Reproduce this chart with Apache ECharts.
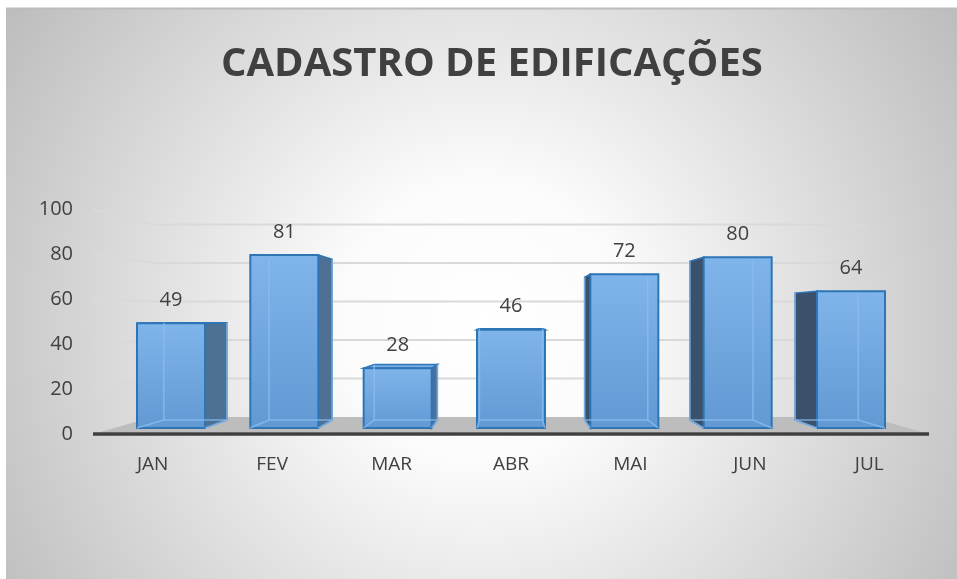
<!DOCTYPE html>
<html>
<head>
<meta charset="utf-8">
<script src="https://cdn.jsdelivr.net/npm/echarts@6/dist/echarts.min.js"></script>
<style>html,body{margin:0;padding:0;background:#fff}#c{width:957px;height:579px}</style>
</head>
<body>
<div id="c"></div>
<script>
const categories = ['JAN', 'FEV', 'MAR', 'ABR', 'MAI', 'JUN', 'JUL'];
const values = [49, 81, 28, 46, 72, 80, 64];
const yTicks = [0, 20, 40, 60, 80, 100];
const titleText = 'CADASTRO DE EDIFICAÇÕES';

// one-point perspective
const VX = 511, VY = 316;
const S_WALL = 0.856;   // back wall depth
const S_FRONT = 0.949;  // bar front face depth
const S_BACK = 0.881;   // bar back face depth
function proj(p, s) { return [VX + (p[0] - VX) * s, VY + (p[1] - VY) * s]; }

const FONT = '"Open Sans", sans-serif';
const chart = echarts.init(document.getElementById('c'));

function renderGrid(params, api) {
  const cs = params.coordSys;
  const v = api.value(0);
  const y = api.coord([0, v])[1];
  const xl = cs.x, xr = cs.x + cs.width;
  if (v === 0) {
    const a = proj([xl, y], S_WALL), b = proj([xr, y], S_WALL);
    const c = proj([xr, y], 0.985), d = proj([xl, y], 0.985);
    const e = proj([xl, y], 1), f = proj([xr, y], 1);
    return {
      type: 'group',
      children: [
        { type: 'polygon', shape: { points: [a, b, c, d] }, style: { fill: '#bdbdbd' } },
        { type: 'line', shape: { x1: e[0], y1: e[1], x2: f[0], y2: f[1] }, style: { stroke: '#3f3f3f', lineWidth: 3.5 } }
      ]
    };
  }
  const p1 = proj([xl, y], 1), p2 = proj([xl, y], S_WALL), p3 = proj([xr, y], S_WALL);
  return {
    type: 'polyline',
    shape: { points: [p1, p2, p3] },
    style: { stroke: '#d9d9d9', lineWidth: 2, fill: null }
  };
}

function renderBar(params, api) {
  const i = api.value(0), v = api.value(1);
  const c0 = api.coord([i, 0]);
  const c1 = api.coord([i, v]);
  const bw = api.size([1, 0])[0] * 0.6;
  const xl = c0[0] - bw / 2, xr = c0[0] + bw / 2;
  const yb = c0[1], yt = c1[1];
  const FTL = proj([xl, yt], S_FRONT), FTR = proj([xr, yt], S_FRONT);
  const FBL = proj([xl, yb], S_FRONT), FBR = proj([xr, yb], S_FRONT);
  const BTL = proj([xl, yt], S_BACK), BTR = proj([xr, yt], S_BACK);
  const BBL = proj([xl, yb], S_BACK), BBR = proj([xr, yb], S_BACK);
  const edge = '#2e75b6';
  const children = [];
  // side faces
  if (xr < VX - 2) {
    children.push({ type: 'polygon', shape: { points: [FTR, BTR, BBR, FBR] },
      style: { fill: '#4d7194', stroke: edge, lineWidth: 1.5 } });
  }
  if (xl > VX + 2) {
    children.push({ type: 'polygon', shape: { points: [FTL, BTL, BBL, FBL] },
      style: { fill: '#3b5169', stroke: edge, lineWidth: 1.5 } });
  }
  // top face (visible below horizon)
  if (yt > VY + 3) {
    children.push({ type: 'polygon', shape: { points: [FTL, FTR, BTR, BTL] },
      style: { fill: '#78aee3', stroke: edge, lineWidth: 1.5 } });
  }
  // front face
  children.push({ type: 'polygon', shape: { points: [FTL, FTR, FBR, FBL] },
    style: {
      fill: new echarts.graphic.LinearGradient(0, 0, 0, 1, [
        { offset: 0, color: '#7fb5ea' }, { offset: 1, color: '#6399d3' }
      ]),
      stroke: edge, lineWidth: 2
    } });
  // back edges seen through translucent front
  const inner = { stroke: 'rgba(140,190,240,0.75)', lineWidth: 1.5, fill: null };
  children.push({ type: 'polyline', shape: { points: [BTL, BBL, BBR, BTR] }, style: inner });
  children.push({ type: 'line', shape: { x1: FBL[0], y1: FBL[1], x2: BBL[0], y2: BBL[1] }, style: inner });
  children.push({ type: 'line', shape: { x1: FBR[0], y1: FBR[1], x2: BBR[0], y2: BBR[1] }, style: inner });
  // value label
  children.push({ type: 'text', style: {
    text: String(v), x: (FTL[0] + FTR[0]) / 2, y: FTL[1] - 23,
    textAlign: 'center', textVerticalAlign: 'middle',
    font: '20px ' + FONT, fill: '#404040'
  } });
  return { type: 'group', children };
}

chart.setOption({
  animation: false,
  graphic: [
    { type: 'rect', z: -10, shape: { x: 6, y: 8, width: 951, height: 571 },
      style: { fill: { type: 'radial', x: 0.5, y: 0.55, r: 1.0, colorStops: [
        { offset: 0, color: '#ffffff' }, { offset: 0.25, color: '#fbfbfb' }, { offset: 1, color: '#bcbcbc' }
      ] } } },
    { type: 'line', z: -9, shape: { x1: 6, y1: 8.5, x2: 957, y2: 8.5 }, style: { stroke: '#bcbcbc', lineWidth: 2 } }
  ],
  title: {
    text: titleText, left: 216, top: 40,
    textStyle: { fontFamily: FONT, fontWeight: 'bold', fontSize: 40, color: '#404040' }
  },
  grid: { left: 93, right: 28, top: 209, bottom: 145 },
  xAxis: {
    type: 'category', data: categories,
    axisLine: { show: false }, axisTick: { show: false },
    axisLabel: { margin: 21, fontFamily: FONT, fontSize: 19, color: '#404040' }
  },
  yAxis: {
    type: 'value', min: 0, max: 100, interval: 20,
    axisLine: { show: false }, axisTick: { show: false }, splitLine: { show: false },
    axisLabel: { margin: 20, fontFamily: FONT, fontSize: 20, color: '#404040' }
  },
  series: [
    { type: 'custom', z: 1, renderItem: renderGrid, data: yTicks.map(v => [v]), encode: { y: 0 }, silent: true },
    { type: 'custom', z: 2, renderItem: renderBar, data: values.map((v, i) => [i, v]), encode: { x: 0, y: 1 } }
  ]
});
</script>
</body>
</html>
